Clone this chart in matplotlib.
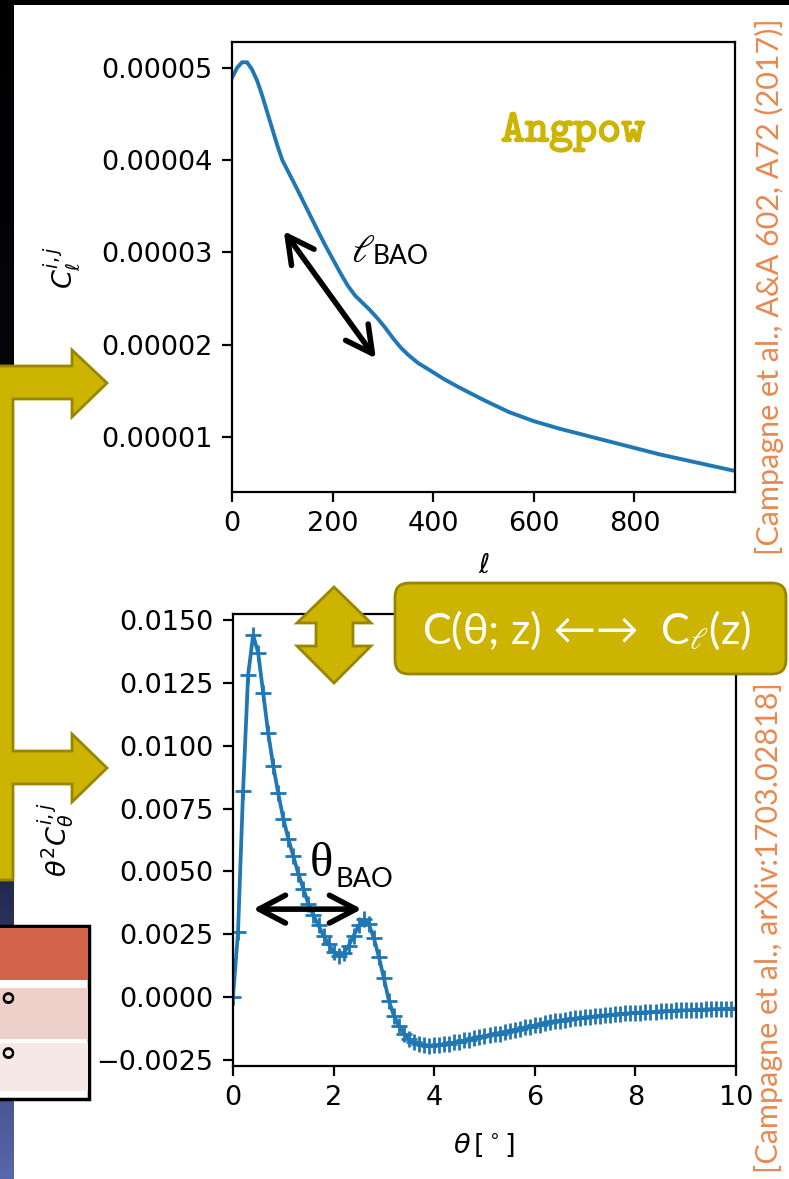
import numpy as np
import matplotlib
matplotlib.use("Agg")
import matplotlib.pyplot as plt
import matplotlib.patheffects as pe
from matplotlib.patches import Polygon, FancyBboxPatch, Rectangle
from matplotlib.ticker import FuncFormatter

# ---- angular power spectrum C_ell (units of 1e-5) ----
ell = [0, 10, 20, 30, 40, 50, 60, 70, 80, 90, 100, 115, 130, 150, 170, 185,
       200, 215, 230, 245, 260, 275, 290, 305, 320, 335, 350, 370, 394, 420,
       450, 500, 550, 600, 650, 700, 750, 800, 850, 900, 950, 1000]
cl_e5 = [4.89, 5.00, 5.06, 5.06, 4.98, 4.86, 4.70, 4.52, 4.34, 4.16, 4.00,
         3.84, 3.68, 3.46, 3.24, 3.08, 2.93, 2.78, 2.64, 2.53, 2.45, 2.37,
         2.28, 2.18, 2.07, 1.97, 1.89, 1.80, 1.72, 1.63, 1.54, 1.40, 1.27,
         1.17, 1.09, 1.02, 0.95, 0.88, 0.81, 0.75, 0.69, 0.63]

# ---- angular correlation theta^2 C(theta) (units of 1e-3) ----
theta = [0.0, 0.1, 0.2, 0.3, 0.4, 0.5, 0.6, 0.7, 0.8, 0.9,
         1.0, 1.1, 1.2, 1.3, 1.4, 1.5, 1.6, 1.7, 1.8, 1.9,
         2.0, 2.1, 2.2, 2.3, 2.4, 2.5, 2.6, 2.7, 2.8, 2.9,
         3.0, 3.1, 3.2, 3.3, 3.4, 3.5, 3.6, 3.7, 3.8, 3.9,
         4.0, 4.1, 4.2, 4.3, 4.4, 4.5, 4.6, 4.7, 4.8, 4.9,
         5.0, 5.1, 5.2, 5.3, 5.4, 5.5, 5.6, 5.7, 5.8, 5.9,
         6.0, 6.1, 6.2, 6.3, 6.4, 6.5, 6.6, 6.7, 6.8, 6.9,
         7.0, 7.1, 7.2, 7.3, 7.4, 7.5, 7.6, 7.7, 7.8, 7.9,
         8.0, 8.1, 8.2, 8.3, 8.4, 8.5, 8.6, 8.7, 8.8, 8.9,
         9.0, 9.1, 9.2, 9.3, 9.4, 9.5, 9.6, 9.7, 9.8, 9.9, 10.0]
t2c_e3 = [0.0, 2.6, 8.2, 12.8, 14.4, 13.7, 12.1, 10.5, 9.2, 8.1,
          7.1, 6.3, 5.6, 4.9, 4.3, 3.7, 3.25, 2.85, 2.45, 2.1,
          1.8, 1.65, 1.75, 2.05, 2.45, 2.85, 3.1, 2.9, 2.35, 1.6,
          0.75, -0.15, -0.75, -1.15, -1.45, -1.65, -1.8, -1.85, -1.9, -1.95,
          -1.9, -1.92, -1.85, -1.85, -1.8, -1.78, -1.72, -1.7, -1.62, -1.6,
          -1.55, -1.52, -1.45, -1.45, -1.38, -1.35, -1.3, -1.28, -1.2, -1.18,
          -1.12, -1.1, -1.02, -1.0, -0.95, -0.94, -0.9, -0.88, -0.85, -0.84,
          -0.8, -0.8, -0.76, -0.75, -0.72, -0.72, -0.68, -0.68, -0.65, -0.64,
          -0.62, -0.62, -0.6, -0.6, -0.58, -0.57, -0.55, -0.56, -0.53, -0.53,
          -0.52, -0.52, -0.5, -0.5, -0.49, -0.48, -0.48, -0.47, -0.47, -0.46, -0.46]

ell_ticks = [0, 200, 400, 600, 800]
cl_ticks = [1e-5, 2e-5, 3e-5, 4e-5, 5e-5]
theta_ticks = [0, 2, 4, 6, 8, 10]
t2c_ticks = [-0.0025, 0.0, 0.0025, 0.005, 0.0075, 0.01, 0.0125, 0.015]

ref_top = "[Campagne et al., A&A 602, A72 (2017)]"
ref_bottom = "[Campagne et al., arXiv:1703.02818]"

W, H = 789, 1179
BLUE = "#1f77b4"
GOLD = "#CCB400"
GOLD_EDGE = "#978600"
ORANGE = "#E8894F"
FS = 19.5

fig = plt.figure(figsize=(W / 100, H / 100), dpi=100)
fig.patch.set_facecolor("white")


def px_axes(x0, y0, x1, y1):
    return [x0 / W, 1 - y1 / H, (x1 - x0) / W, (y1 - y0) / H]


def style(ax):
    for s in ax.spines.values():
        s.set_linewidth(1.6)
    ax.tick_params(length=7, width=1.6, labelsize=FS, pad=7)


ARROW = dict(arrowstyle="<->,head_length=0.95,head_width=0.5",
             lw=4, color="black", shrinkA=0, shrinkB=0, mutation_scale=20)

# ---- top panel: C_ell ----
ax1 = fig.add_axes(px_axes(232, 42, 735, 492))
style(ax1)
ax1.plot(ell, np.array(cl_e5) * 1e-5, color=BLUE, lw=2.8,
         solid_joinstyle="round")
ax1.set_xlim(0, 1000)
ax1.set_ylim(4.02e-6, 5.28e-5)
ax1.set_xticks(ell_ticks)
ax1.set_yticks(cl_ticks)
ax1.yaxis.set_major_formatter(FuncFormatter(lambda v, p: f"{v:.5f}"))
ax1.set_xlabel(r"$\ell$", fontsize=FS)
ax1.set_ylabel(r"$C_\ell^{i,j}$", fontsize=FS)
ax1.yaxis.set_label_coords(-0.296, 0.5)
ax1.xaxis.set_label_coords(0.5, -0.136)
ax1.text(0.678, 0.80, "Angpow", transform=ax1.transAxes, color=GOLD,
         fontsize=33, family="cmtt10", ha="center", va="center",
         path_effects=[pe.withStroke(linewidth=1.3, foreground=GOLD)])
ax1.annotate("", xy=(103, 3.23e-5), xytext=(286, 1.85e-5), arrowprops=ARROW)

# ---- bottom panel: theta^2 C(theta) ----
ax2 = fig.add_axes(px_axes(233, 614, 736, 1066))
style(ax2)
ax2.plot(theta, np.array(t2c_e3) * 1e-3, color=BLUE, lw=2.7,
         marker="+", ms=11, mew=2.0)
ax2.set_xlim(0, 10)
ax2.set_ylim(-0.00274, 0.01524)
ax2.set_xticks(theta_ticks)
ax2.set_yticks(t2c_ticks)
ax2.yaxis.set_major_formatter(
    FuncFormatter(lambda v, p: f"{v:.4f}".replace("-", "\u2212")))
ax2.set_xlabel(r"$\theta\,[^\circ]$", fontsize=FS)
ax2.set_ylabel(r"$\theta^2 C_\theta^{i,j}$", fontsize=FS)
ax2.yaxis.set_label_coords(-0.310, 0.5)
ax2.xaxis.set_label_coords(0.5, -0.146)
ax2.annotate("", xy=(0.40, 0.0035), xytext=(2.56, 0.0035), arrowprops=ARROW)

# ---- slide decorations in pixel coordinates ----
ov = fig.add_axes([0, 0, 1, 1], zorder=10)
ov.set_facecolor("none")
ov.axis("off")

# slide edge: black frame on top, dark gradient stripe on the left
stops = np.array([0, 0.5, 0.75, 1.0])
cols = np.array([[0, 0, 0], [8, 8, 18], [35, 40, 78], [88, 102, 172]]) / 255
yy = np.linspace(0, 1, 300)
grad = np.stack([np.interp(yy, stops, cols[:, k]) for k in range(3)], axis=1)
ov.imshow(grad[:, None, :], extent=(0, 14, H, 0), aspect="auto", zorder=1)
ov.add_patch(Rectangle((0, 0), W, 5, fc="black", ec="none", zorder=1))

# gold branching arrow on the left
branch = [(-5, 366), (72, 366), (72, 350), (107, 383), (72, 417), (72, 399),
          (13, 399), (13, 751), (72, 751), (72, 734), (107, 768), (72, 802),
          (72, 784), (13, 784), (13, 880), (-5, 880)]
ov.add_patch(Polygon(branch, closed=True, fc=GOLD, ec=GOLD_EDGE, lw=2, zorder=3))

# gold up-down arrow
updown = [(334, 587), (371, 623), (353, 623), (353, 646), (371, 646),
          (334, 683), (297, 646), (316, 646), (316, 623), (297, 623)]
ov.add_patch(Polygon(updown, closed=True, fc=GOLD, ec=GOLD_EDGE, lw=2, zorder=3))

# transform box
ov.add_patch(FancyBboxPatch((395, 583), 391, 91,
                            boxstyle="round,pad=0,rounding_size=14",
                            fc=GOLD, ec=GOLD_EDGE, lw=2, zorder=3))
ov.text(587, 630, "C(\u03b8; z) \u2190\u2192  C$_{\\ell}$(z)", color="white",
        fontsize=31, ha="center", va="center", family=["Lato", "DejaVu Sans"],
        math_fontfamily="stix", zorder=4)

# BAO annotations
ov.text(351, 262, r"$\ell$", fontsize=28, math_fontfamily="stix",
        ha="left", va="baseline", zorder=4)
ov.text(373, 264, "BAO", fontsize=19, family="Lato", ha="left",
        va="baseline", zorder=4)
ov.text(310, 876, "\u03b8", fontsize=35, family="Liberation Serif",
        ha="left", va="baseline", zorder=4)
ov.text(336, 887, "BAO", fontsize=19.5, family="Lato", ha="left",
        va="baseline", zorder=4)

# references
ov.text(769, 287, ref_top, rotation=90, ha="center", va="center",
        color=ORANGE, fontsize=22, family="Lato", zorder=4)
ov.text(769, 928, ref_bottom, rotation=90, ha="center", va="center",
        color=ORANGE, fontsize=22, family="Lato", zorder=4)

# corner of a table
ov.add_patch(Rectangle((-10, 926), 99, 173, fc="white", ec="black", lw=2.5, zorder=3))
ov.add_patch(Rectangle((-10, 928), 98, 52, fc="#D16448", ec="none", zorder=3))
ov.add_patch(Rectangle((-10, 988), 98, 51, fc="#EDD0CA", ec="none", zorder=3))
ov.add_patch(Rectangle((-10, 1043), 98, 48, fc="#F6E8E5", ec="none", zorder=3))
for yc in (1010, 1065):
    ov.text(8, yc, "\u00b0", fontsize=27, ha="center", va="center", zorder=4)

ov.set_xlim(0, W)
ov.set_ylim(H, 0)

fig.savefig("out.png", dpi=100)
